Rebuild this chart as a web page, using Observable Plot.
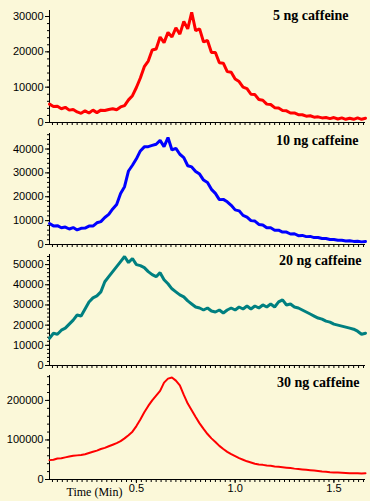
<!DOCTYPE html>
<html><head><meta charset="utf-8">
<script src="https://cdn.jsdelivr.net/npm/d3@7"></script>
<script src="https://cdn.jsdelivr.net/npm/@observablehq/plot@0.6"></script>
<style>
html,body{margin:0;padding:0;background:#FBF8D9;}
#chart{width:370px;height:501px;position:relative;overflow:hidden;background:#FBF8D9;}
#chart svg{display:block;overflow:visible;}
</style></head><body><div id="chart"></div>
<script>
const times = [0.06,0.08,0.10,0.12,0.14,0.16,0.18,0.20,0.22,0.24,0.26,0.28,0.30,0.32,0.34,0.36,0.38,0.40,0.42,0.44,0.46,0.48,0.50,0.52,0.54,0.56,0.58,0.60,0.62,0.64,0.66,0.68,0.70,0.72,0.74,0.76,0.78,0.80,0.82,0.84,0.86,0.88,0.90,0.92,0.94,0.96,0.98,1.00,1.02,1.04,1.06,1.08,1.10,1.12,1.14,1.16,1.18,1.20,1.22,1.24,1.26,1.28,1.30,1.32,1.34,1.36,1.38,1.40,1.42,1.44,1.46,1.48,1.50,1.52,1.54,1.56,1.58,1.60,1.62,1.64,1.66];

const ng5 = [5200,4500,4600,3900,4300,3500,3700,3000,2600,3300,
  2700,3500,2800,3500,3400,3700,3900,3600,4400,4800,
  6400,7600,9900,12600,15800,17400,20500,20800,24200,22600,
  25500,24200,26800,25000,28600,26500,31200,26000,26500,22800,
  23200,19800,19800,16900,16800,14400,14200,12300,11600,10000,
  9600,8000,7900,6500,6300,5200,5100,4200,4100,3400,
  3300,2700,2700,2200,2200,1800,1900,1500,1600,1300,
  1400,1100,1400,1000,1300,900,1200,900,1300,900,1200];

const ng10 = [8800,7800,7900,7000,7300,6500,7100,6100,6800,6900,
  7700,7700,9100,9600,11300,12600,14900,16800,21400,24200,
  30800,33200,35900,39200,40900,41000,41500,42000,43600,41000,
  44800,39600,40300,37800,36400,33000,32500,30600,29500,27000,
  26000,23100,21400,18800,18900,17900,16400,14500,14100,12200,
  11500,10000,9800,8400,8200,7000,7000,6000,6000,5200,
  5200,4400,4500,3700,3800,3300,3400,2900,2900,2500,
  2500,2100,2100,1800,1800,1500,1600,1300,1400,1100,1300];

const ng20 = [13500,16000,15500,17500,18500,20500,22500,25000,24500,28000,
  31500,33500,34500,36500,41500,44000,46500,49000,51500,54000,
  51000,53000,50000,49500,48500,46500,45000,44000,46000,42500,
  40500,38000,36500,35000,34000,32000,30500,29000,28500,27500,
  28500,27000,26500,27500,26000,27500,28500,27500,29000,28000,
  29500,28000,29500,28500,30000,29000,30500,29000,31500,32500,
  30000,30500,29000,28500,27500,26500,25500,24500,23500,23000,
  22000,21500,20500,20000,19500,19000,18500,18000,17000,15500,16000];

const ng30 = [49000,50000,53000,54000,56000,58000,60000,61000,62000,64000,
  67000,70000,73000,77000,80000,84000,88000,92000,97000,104000,
  112000,121000,135000,152000,170000,186000,200000,212000,224000,245000,
  255000,258000,250000,238000,214000,192000,175000,158000,142000,128000,
  115000,104000,95000,85000,77000,70000,64000,59000,54000,50000,
  46000,43000,40000,38000,37000,35500,34500,33000,32000,31000,
  30000,29000,27500,26500,25500,24500,23500,22500,21500,20000,
  19500,18500,18000,17500,17000,16500,16000,15500,15500,15000,15500];

const panelLabels = ["5 ng caffeine","10 ng caffeine","20 ng caffeine","30 ng caffeine"];
const xTickLabels = [0.5, 1.0, 1.5];
const axisTitle = "Time (Min)";

const series = [ng5, ng10, ng20, ng30];
const colors = ["#FF0000","#0000FF","#008080","#FF0000"];
const widths = [3, 3, 3, 2];
const yMax = [31700, 46500, 55000, 263000];
const yMajor = [[0,10000,20000,30000],[0,10000,20000,30000,40000],[0,10000,20000,30000,40000,50000],[0,100000,200000]];
const yMinorStep = [2000, 2000, 2000, 20000];
const layout = [
  {h:127, mt:10, mb:5, dx:-17, dy:0},
  {h:121, mt:6, mb:4, dx:-7, dy:2},
  {h:121, mt:6, mb:4, dx:-4, dy:1},
  {h:132, mt:6, mb:22, dx:-6, dy:2}
];
const xDomain = [0.06, 1.66];
const xMinor = d3.range(0.075, 1.66, 0.025);

const chart = document.getElementById("chart");
series.forEach((vals, k) => {
  const rows = times.map((t, i) => ({t, v: vals[i]}));
  const L = layout[k];
  const minor = d3.range(0, yMax[k], yMinorStep[k]);
  const marks = [
    Plot.axisY({ticks: minor, tickSize: 2, tickFormat: () => "", label: null}),
    Plot.axisY({ticks: yMajor[k], tickSize: 4, tickPadding: 2, tickFormat: d => String(d), label: null}),
    Plot.axisX({ticks: xMinor, tickSize: 3, tickFormat: () => "", label: null}),
    Plot.ruleX([xDomain[0]], {stroke: "#000"}),
    Plot.ruleY([0], {stroke: "#000"}),
    Plot.line(rows, {x: "t", y: "v", stroke: colors[k], strokeWidth: widths[k], strokeLinejoin: "miter"}),
    Plot.text([panelLabels[k]], {text: d => d, frameAnchor: "top-right", dx: L.dx, dy: L.dy,
      fontFamily: "Liberation Serif, Times New Roman, serif", fontWeight: "bold", fontSize: 14, fill: "#000"})
  ];
  if (k === 3) {
    marks.push(Plot.axisX({ticks: xTickLabels, tickSize: 4, tickPadding: 1, tickFormat: d3.format(".1f"), label: null}));
    marks.push(Plot.text([axisTitle], {text: d => d, frameAnchor: "bottom-left", dx: 45, dy: 13,
      textAnchor: "middle", lineAnchor: "middle",
      fontFamily: "Liberation Serif, Times New Roman, serif", fontSize: 12, fill: "#000"}));
  }
  const svg = Plot.plot({
    width: 370, height: L.h,
    marginLeft: 49, marginRight: 5, marginTop: L.mt, marginBottom: L.mb,
    x: {domain: xDomain},
    y: {domain: [0, yMax[k]]},
    style: {background: "transparent", fontFamily: "Liberation Sans, Arial, sans-serif", fontSize: "11px", color: "#000", overflow: "visible"},
    marks
  });
  chart.appendChild(svg);
});
</script>
</body></html>
